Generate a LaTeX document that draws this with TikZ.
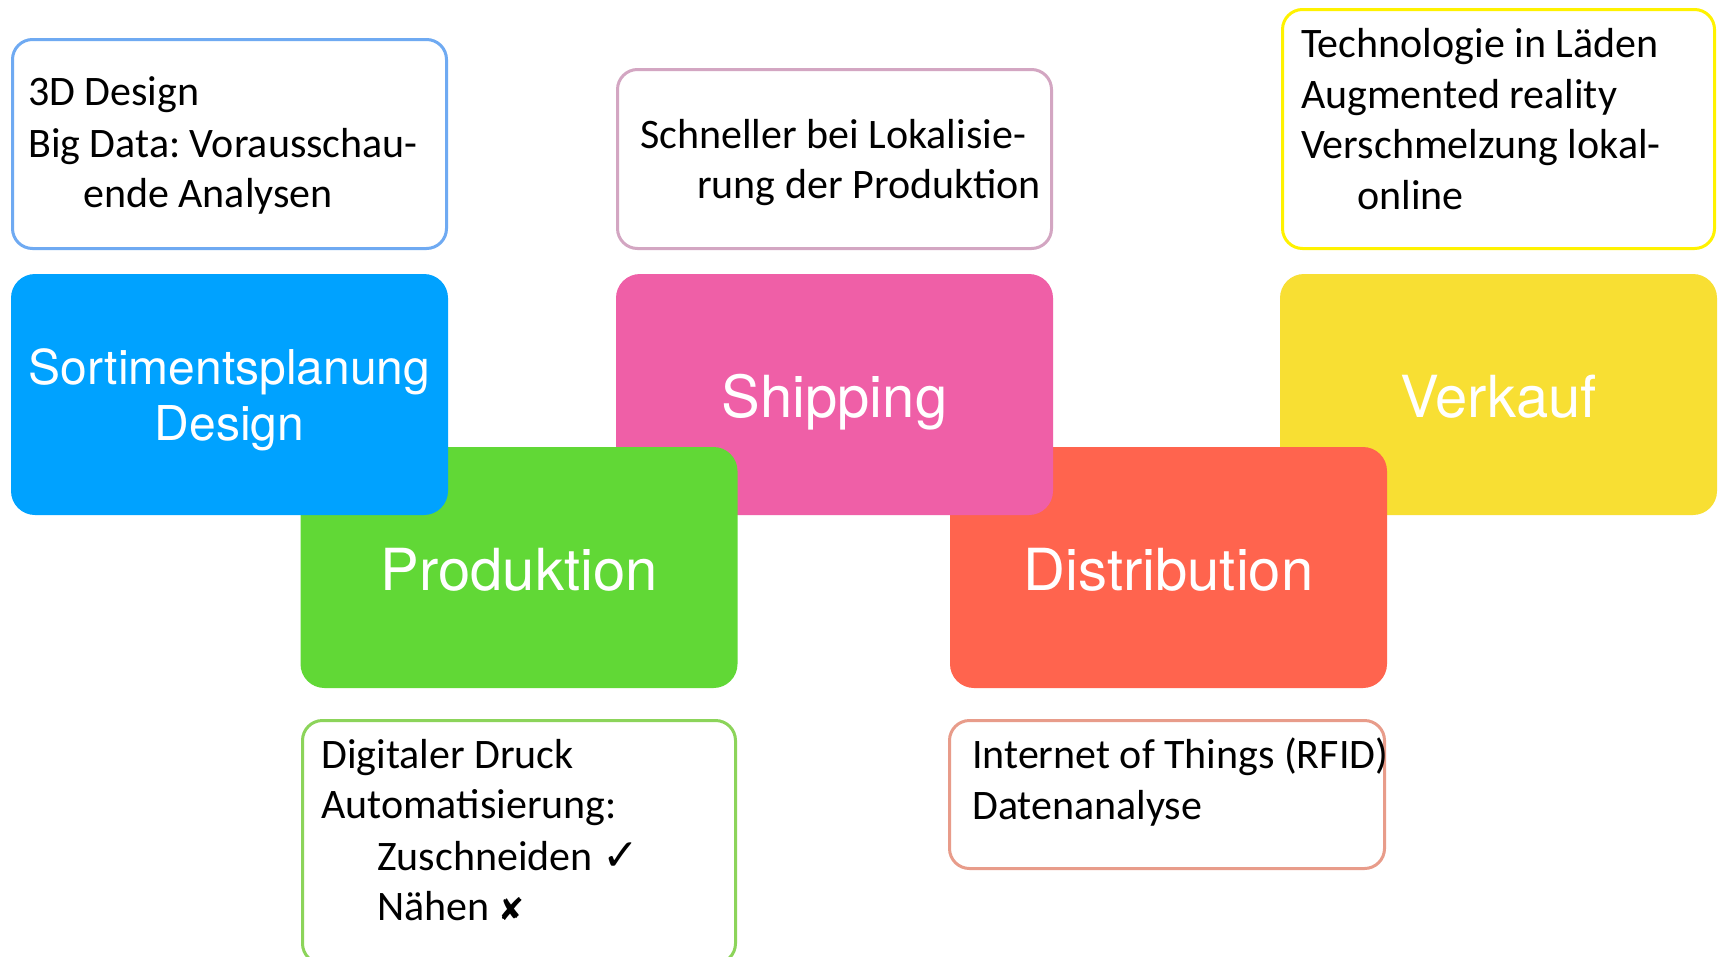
\documentclass[tikz,border=0pt]{standalone}
\usepackage{fontspec}
\frenchspacing
\newfontfamily\bodyfont{Carlito}
\newfontfamily\headfont{TeX Gyre Heros}
\newfontfamily\symbfont{DejaVu Sans}
\definecolor{cblue}{HTML}{00A2FF}
\definecolor{cpink}{HTML}{EF5FA7}
\definecolor{cgreen}{HTML}{61D836}
\definecolor{cred}{HTML}{FF644E}
\definecolor{cyellow}{HTML}{F8DF33}
\definecolor{oblue}{HTML}{6FAAF2}
\definecolor{opink}{HTML}{D3A6C2}
\definecolor{ogreen}{HTML}{8CD45A}
\definecolor{ored}{HTML}{E89C8A}
\definecolor{oyellow}{HTML}{FFF200}
\tikzset{
  fillbox/.style={rounded corners=24pt, inner sep=0pt, text=white, align=center,
    minimum width=437pt, minimum height=241pt, text depth=0pt, text height=46pt,
    font=\headfont\fontsize{58}{66}\selectfont},
  outbox/.style={draw, line width=3pt, rounded corners=20pt, fill=white, inner sep=0pt},
  txt/.style={anchor=base west, inner sep=0pt, font=\bodyfont\fontsize{42}{51}\selectfont}
}
\begin{document}
\begin{tikzpicture}[x=1pt,y=-1pt]
\clip (0,0) rectangle (1718,956);
\fill[white] (0,0) rectangle (1718,956);
% outline boxes
\node[outbox, draw=oblue, minimum width=434pt, minimum height=209pt] (ob) at (229.5,144) {};
\node[outbox, draw=opink, minimum width=434pt, minimum height=179pt] (op) at (834.5,159) {};
\node[outbox, draw=oyellow, minimum width=432pt, minimum height=239pt] (oy) at (1498.5,129) {};
\node[outbox, draw=ogreen, minimum width=433pt, minimum height=243pt] (og) at (519,842) {};
\node[outbox, draw=ored, minimum width=435pt, minimum height=148pt] (or) at (1167,794.5) {};
% filled boxes (stacking order)
\node[fillbox, fill=cyellow] (fy) at (1498.5,394.5) {Verkauf};
\node[fillbox, fill=cred] (fr) at (1168.5,567.5) {Distribution};
\node[fillbox, fill=cpink] (fp) at (834.5,394.5) {Shipping};
\node[fillbox, fill=cgreen] (fg) at (519,567.5) {Produktion};
\node[fillbox, fill=cblue, text height=, font=\headfont\fontsize{48}{56}\selectfont] (fb) at (229.5,394.5) {Sortimentsplanung\\Design};
% texts
\node[txt] (b1) at (28,105) {3D Design};
\node[txt] (b2) at (28,157) {Big Data: Vorausschau-};
\node[txt] (b3) at (83,207) {ende Analysen};
\node[txt] (p1) at (640,148) {Schneller bei Lokalisie-};
\node[txt] (p2) at (697,198) {rung der Produktion};
\node[txt] (y1) at (1301,57) {Technologie in Läden};
\node[txt] (y2) at (1301,108) {Augmented reality};
\node[txt] (y3) at (1301,158) {Verschmelzung lokal-};
\node[txt] (y4) at (1357,209) {online};
\node[txt] (g1) at (321,768) {Digitaler Druck};
\node[txt] (g2) at (321,818) {Automatisierung:};
\node[txt] (g3) at (377,870) {Zuschneiden {\symbfont\fontsize{44}{48}\selectfont ✓}};
\node[txt] (g4) at (377,920) {Nähen {\symbfont\fontsize{31}{34}\selectfont ✘}};
\node[txt] (r1) at (972,768) {Internet of Things (RFID)};
\node[txt] (r2) at (972,819) {Datenanalyse};
\end{tikzpicture}
\end{document}
